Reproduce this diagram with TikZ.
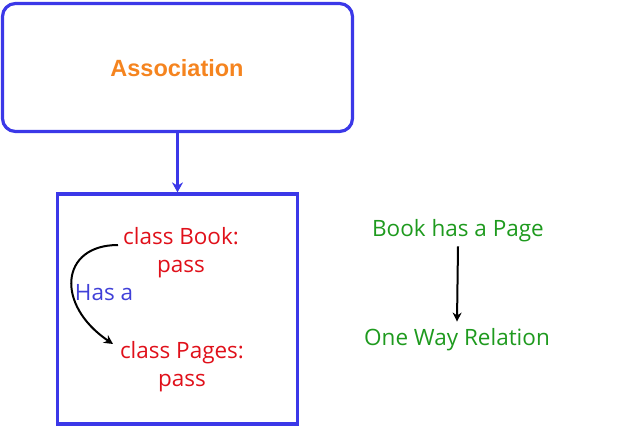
\documentclass[tikz,border=0pt]{standalone}
\usepackage{fontspec}
\setmainfont{Open Sans}
\newfontfamily\arialfont{Liberation Sans}
\usetikzlibrary{arrows.meta}
\definecolor{boxblue}{HTML}{3B38E8}
\definecolor{assocorange}{HTML}{F5841F}
\definecolor{codered}{HTML}{E0101A}
\definecolor{relgreen}{HTML}{1E9A1E}
\definecolor{hasblue}{HTML}{4040D8}
\tikzset{
  frame/.style={draw=boxblue, line width=3.2pt},
  codetext/.style={text=codered, font=\fontsize{22.5}{28}\selectfont, align=center, inner sep=0pt},
  reltext/.style={text=relgreen, font=\fontsize{22.5}{28}\selectfont, inner sep=0pt},
  blk/.style={draw=black, line width=2pt, -{Stealth[length=9pt,width=9pt]}},
}
\begin{document}
\begin{tikzpicture}[x=1pt,y=-1pt]
\useasboundingbox (0,0) rectangle (619,426);
\node[frame, rounded corners=13pt, minimum width=350pt, minimum height=128pt, inner sep=0pt] (assoc) at (177.5,67.5) {};
\node[text=assocorange, font=\arialfont\bfseries\fontsize{23.5}{28}\selectfont] (assoclbl) at (177,68) {Association};
\node[frame, minimum width=240pt, minimum height=230pt, inner sep=0pt] (cls) at (177.5,309) {};
\draw[draw=boxblue, line width=2.5pt, -{Stealth[length=10pt,width=11pt]}] (assoc.south) -- (cls.north);
\node[codetext] (book) at (181,253) {class Book:\\pass};
\node[codetext] (pages) at (182,367) {class Pages:\\pass};
\node[text=hasblue, font=\fontsize{22.5}{28}\selectfont, inner sep=0pt] (hasa) at (104,293) {Has a};
\coordinate (bstart) at (118,245);
\coordinate (pend) at (113,344);
\draw[blk] (bstart) .. controls (60,245) and (55,305) .. (pend);
\node[reltext] (bhp) at (458,231) {Book has a Page};
\node[reltext] (owr) at (457,340) {One Way Relation};
\draw[blk] ([yshift=-4pt]bhp.south) -- ([yshift=7pt]owr.north);
\end{tikzpicture}
\end{document}
